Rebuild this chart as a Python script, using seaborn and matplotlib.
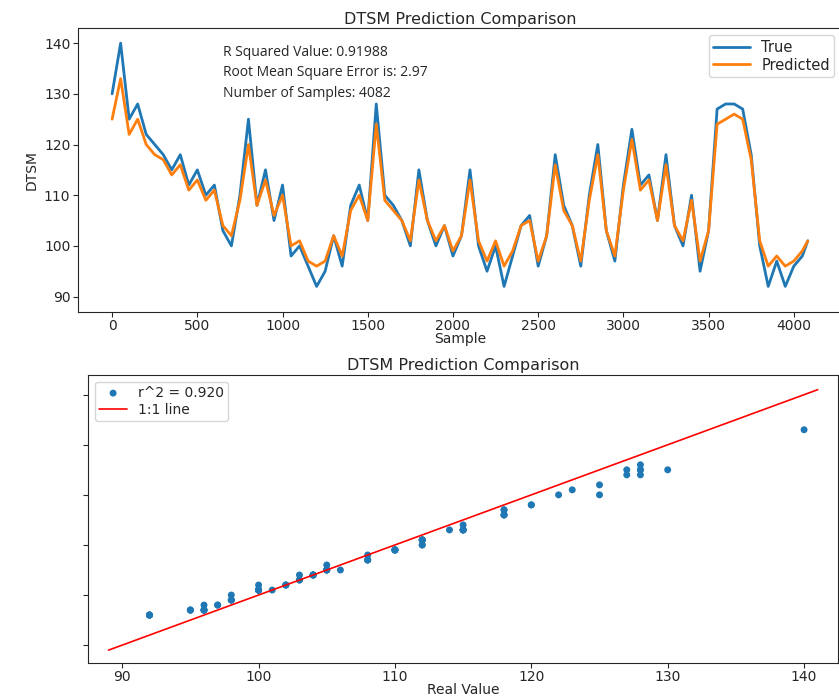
import numpy as np
import pandas as pd
import seaborn as sns
import matplotlib.pyplot as plt

# values every 50 samples
sample = [0, 50, 100, 150, 200, 250, 300, 350, 400, 450, 500, 550, 600, 650, 700, 750,
          800, 850, 900, 950, 1000, 1050, 1100, 1150, 1200, 1250, 1300, 1350, 1400, 1450,
          1500, 1550, 1600, 1650, 1700, 1750, 1800, 1850, 1900, 1950, 2000, 2050, 2100,
          2150, 2200, 2250, 2300, 2350, 2400, 2450, 2500, 2550, 2600, 2650, 2700, 2750,
          2800, 2850, 2900, 2950, 3000, 3050, 3100, 3150, 3200, 3250, 3300, 3350, 3400,
          3450, 3500, 3550, 3600, 3650, 3700, 3750, 3800, 3850, 3900, 3950, 4000, 4050, 4082]
true_vals = [130, 140, 125, 128, 122, 120, 118, 115, 118, 112, 115, 110, 112, 103, 100, 110,
             125, 108, 115, 105, 112, 98, 100, 96, 92, 95, 102, 96, 108, 112,
             105, 128, 110, 108, 105, 100, 115, 105, 100, 104, 98, 102, 115,
             100, 95, 100, 92, 98, 104, 106, 96, 102, 118, 108, 104, 96,
             110, 120, 103, 97, 112, 123, 112, 114, 105, 118, 104, 100, 110,
             95, 103, 127, 128, 128, 127, 118, 100, 92, 97, 92, 96, 98, 101]
pred_vals = [125, 133, 122, 125, 120, 118, 117, 114, 116, 111, 113, 109, 111, 104, 102, 109,
             120, 108, 113, 106, 110, 100, 101, 97, 96, 97, 102, 98, 107, 110,
             105, 124, 109, 107, 105, 101, 113, 105, 101, 104, 99, 102, 113,
             101, 97, 101, 96, 99, 104, 105, 97, 102, 116, 107, 104, 97,
             109, 118, 103, 98, 111, 121, 111, 113, 105, 116, 104, 101, 109,
             97, 103, 124, 125, 126, 125, 117, 101, 96, 98, 96, 97, 99, 101]

df = pd.DataFrame({"Sample": sample, "True": true_vals, "Predicted": pred_vals})

sns.set_style("white")
fig = plt.figure(figsize=(8.39, 6.99), dpi=100)
ax1 = fig.add_axes([0.093, 0.554, 0.910, 0.406])
ax2 = fig.add_axes([0.105, 0.052, 0.894, 0.412])

sns.lineplot(data=df, x="Sample", y="True", color="#1f77b4", lw=2, label="True", ax=ax1)
sns.lineplot(data=df, x="Sample", y="Predicted", color="#ff7f0e", lw=2, label="Predicted", ax=ax1)
ax1.set_xlim(-200, 4280)
ax1.set_ylim(87, 143)
ax1.set_xticks(range(0, 4001, 500))
ax1.set_xlabel("Sample", fontsize=10, labelpad=-1)
ax1.set_ylabel("DTSM", fontsize=10, family="Liberation Sans Narrow")
ax1.set_title("DTSM Prediction Comparison", fontsize=11.5, pad=3)
ax1.legend(loc="upper right", fontsize=10.5, handlelength=2.5, borderpad=0.3, labelspacing=0.2)
ax1.text(0.19, 0.94, "R Squared Value: 0.91988\nRoot Mean Square Error is: 2.97\nNumber of Samples: 4082",
         transform=ax1.transAxes, va="top", fontsize=10, family="Open Sans", linespacing=1.5)
ax1.tick_params(labelsize=10, length=3.5, left=True, bottom=True, pad=2)

sns.scatterplot(data=df, x="True", y="Predicted", color="#1f77b4", s=25, edgecolor="none",
                label="r^2 = 0.920", ax=ax2)
ax2.plot([89, 141], [89, 141], color="red", lw=1.2, label="1:1 line")
ax2.set_xlim(87.5, 142.5)
ax2.set_ylim(86.5, 144)
ax2.set_xticks(range(90, 141, 10))
ax2.set_yticks(range(90, 141, 10))
ax2.set_yticklabels([])
ax2.set_xlabel("Real Value", fontsize=10, labelpad=-1)
ax2.set_ylabel("")
ax2.set_title("DTSM Prediction Comparison", fontsize=11.5, pad=3)
ax2.legend(loc="upper left", fontsize=10, borderpad=0.3, labelspacing=0.2)
ax2.tick_params(labelsize=10, length=3.5, left=True, bottom=True, pad=2)

fig.savefig("out.png", dpi=100)
